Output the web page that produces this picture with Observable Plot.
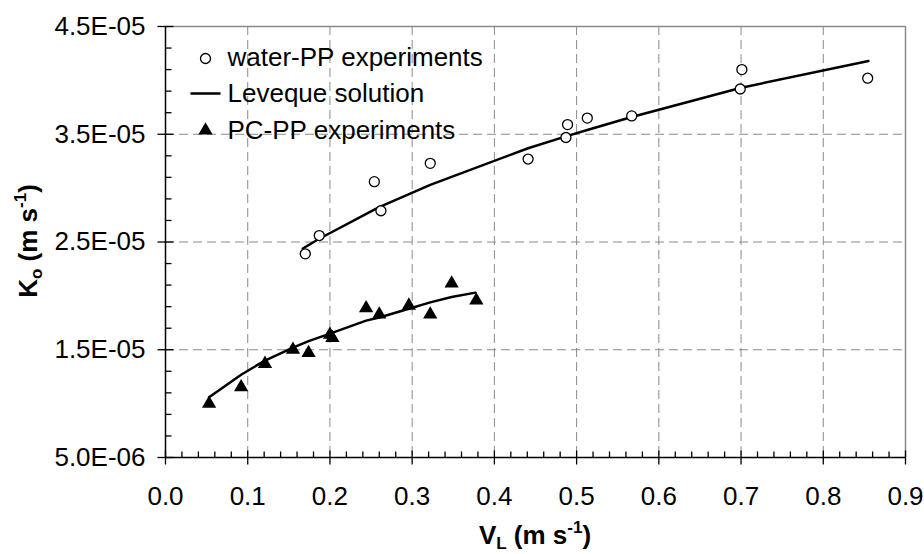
<!DOCTYPE html>
<html><head><meta charset="utf-8">
<script src="https://cdn.jsdelivr.net/npm/d3@7"></script>
<script src="https://cdn.jsdelivr.net/npm/@observablehq/plot@0.6"></script>
<style>body{margin:0;background:#fff}</style>
</head><body><div id="chart"></div>
<script>
// water-PP experiments
const waterV = [0.170, 0.187, 0.254, 0.262, 0.322, 0.441, 0.487, 0.489, 0.513, 0.567, 0.699, 0.701, 0.854];
const waterK = [2.39e-5, 2.56e-5, 3.06e-5, 2.79e-5, 3.23e-5, 3.27e-5, 3.47e-5, 3.59e-5, 3.65e-5, 3.67e-5, 3.92e-5, 4.10e-5, 4.02e-5];
// Leveque solution (water)
const levWaterV = [0.167, 0.187, 0.254, 0.262, 0.322, 0.441, 0.487, 0.513, 0.567, 0.699, 0.855];
const levWaterK = [2.44e-5, 2.53e-5, 2.80e-5, 2.83e-5, 3.03e-5, 3.37e-5, 3.48e-5, 3.54e-5, 3.66e-5, 3.93e-5, 4.18e-5];
// PC-PP experiments
const pcV = [0.053, 0.092, 0.121, 0.155, 0.174, 0.200, 0.203, 0.244, 0.260, 0.296, 0.322, 0.348, 0.378];
const pcK = [0.999e-5, 1.153e-5, 1.37e-5, 1.50e-5, 1.47e-5, 1.64e-5, 1.61e-5, 1.886e-5, 1.828e-5, 1.91e-5, 1.828e-5, 2.116e-5, 1.958e-5];
// Leveque solution (PC)
const levPcV = [0.053, 0.092, 0.121, 0.155, 0.174, 0.200, 0.244, 0.260, 0.296, 0.322, 0.348, 0.377];
const levPcK = [1.06e-5, 1.268e-5, 1.40e-5, 1.52e-5, 1.58e-5, 1.65e-5, 1.77e-5, 1.80e-5, 1.88e-5, 1.94e-5, 1.99e-5, 2.03e-5];

// ticks
const xMajor = [0, 0.1, 0.2, 0.3, 0.4, 0.5, 0.6, 0.7, 0.8, 0.9];
const xTickLabels = ["0.0", "0.1", "0.2", "0.3", "0.4", "0.5", "0.6", "0.7", "0.8", "0.9"];
const yMajor = [5e-6, 1.5e-5, 2.5e-5, 3.5e-5, 4.5e-5];
const yTickLabels = ["5.0E-06", "1.5E-05", "2.5E-05", "3.5E-05", "4.5E-05"];
const legendLabels = ["water-PP experiments", "Leveque solution", "PC-PP experiments"];

const xMinor = d3.range(1, 45).map(i => i * 0.02).filter(v => Math.abs(v * 10 - Math.round(v * 10)) > 1e-6);
const yMinor = d3.range(0, 21).map(i => 5e-6 + i * 2e-6).filter((v, i) => i % 5 !== 0);

const water = waterV.map((v, i) => ({v, k: waterK[i]}));
const levWater = levWaterV.map((v, i) => ({v, k: levWaterK[i]}));
const pc = pcV.map((v, i) => ({v, k: pcK[i]}));
const levPc = levPcV.map((v, i) => ({v, k: levPcK[i]}));

const symVCross = {draw(c) { c.moveTo(0, -7); c.lineTo(0, 7); }};
const symVIn = {draw(c) { c.moveTo(0, -6); c.lineTo(0, 0); }};
const symHCross = {draw(c) { c.moveTo(-8, 0); c.lineTo(8, 0); }};
const symHIn = {draw(c) { c.moveTo(0, 0); c.lineTo(6, 0); }};
const symLegLine = {draw(c) { c.moveTo(-15, 0); c.lineTo(15, 0); }};

const gridStyle = {stroke: "#8a8a8a", strokeWidth: 1, strokeDasharray: "9,5", strokeOpacity: 1};

const chart = Plot.plot({
  width: 924, height: 554,
  marginLeft: 165, marginRight: 19, marginTop: 26, marginBottom: 97,
  style: {background: "white", color: "black", fontFamily: "'Liberation Sans', Arial, sans-serif", fontSize: "26px"},
  x: {domain: [0, 0.9]},
  y: {domain: [5e-6, 4.5e-5]},
  marks: [
    Plot.ruleX(xMajor.slice(1, -1), gridStyle),
    Plot.ruleY(yMajor.slice(1, -1), gridStyle),
    Plot.ruleY([yMajor[yMajor.length - 1]], {stroke: "#8a8a8a", strokeWidth: 1.5}),
    Plot.ruleX([xMajor[xMajor.length - 1]], {stroke: "#8a8a8a", strokeWidth: 1.5}),
    Plot.ruleX([xMajor[0]], {stroke: "black", strokeWidth: 1.5}),
    Plot.ruleY([yMajor[0]], {stroke: "black", strokeWidth: 1.5}),
    // ticks
    Plot.dot(xMajor, {x: d => d, frameAnchor: "bottom", symbol: symVCross, stroke: "black", fill: "none", strokeWidth: 1.3}),
    Plot.dot(xMinor, {x: d => d, frameAnchor: "bottom", symbol: symVIn, stroke: "black", fill: "none", strokeWidth: 1.3}),
    Plot.dot(yMajor, {y: d => d, frameAnchor: "left", symbol: symHCross, stroke: "black", fill: "none", strokeWidth: 1.3}),
    Plot.dot(yMinor, {y: d => d, frameAnchor: "left", symbol: symHIn, stroke: "black", fill: "none", strokeWidth: 1.3}),
    // data
    Plot.line(levWater, {x: "v", y: "k", stroke: "black", strokeWidth: 2.5}),
    Plot.line(levPc, {x: "v", y: "k", stroke: "black", strokeWidth: 2.5}),
    Plot.dot(water, {x: "v", y: "k", r: 5, stroke: "black", fill: "white", strokeWidth: 1.3}),
    Plot.dot(pc, {x: "v", y: "k", symbol: "triangle", r: 5.3, fill: "black", stroke: "none"}),
    // axes labels
    Plot.axisX({ticks: xMajor, tickFormat: d => xTickLabels[xMajor.indexOf(d)], tickSize: 0, tickPadding: 29, fontSize: 26, label: null}),
    Plot.axisY({ticks: yMajor, tickFormat: d => yTickLabels[yMajor.indexOf(d)], tickSize: 0, tickPadding: 20, fontSize: 26, label: null}),
    // legend
    Plot.dot([legendLabels[0]], {frameAnchor: "top-left", dx: 40, dy: 32, r: 5, stroke: "black", fill: "white", strokeWidth: 1.3}),
    Plot.dot([legendLabels[1]], {frameAnchor: "top-left", dx: 40, dy: 67, symbol: symLegLine, stroke: "black", fill: "none", strokeWidth: 2.5}),
    Plot.dot([legendLabels[2]], {frameAnchor: "top-left", dx: 40, dy: 104, symbol: "triangle", r: 5.3, fill: "black", stroke: "none"}),
    Plot.text([legendLabels[0]], {frameAnchor: "top-left", dx: 62, dy: 31, textAnchor: "start", lineAnchor: "middle", fontSize: 26, fill: "black"}),
    Plot.text([legendLabels[1]], {frameAnchor: "top-left", dx: 62, dy: 67, textAnchor: "start", lineAnchor: "middle", fontSize: 26, fill: "black"}),
    Plot.text([legendLabels[2]], {frameAnchor: "top-left", dx: 62, dy: 104, textAnchor: "start", lineAnchor: "middle", fontSize: 26, fill: "black"})
  ]
});

const svg = d3.select(chart);
function addTitle(sel, main, sub, rest, sup, end) {
  sel.append("tspan").text(main);
  sel.append("tspan").attr("font-size", 17).attr("dy", 5).text(sub);
  sel.append("tspan").attr("font-size", 26).attr("dy", -5).text(rest);
  sel.append("tspan").attr("font-size", 17).attr("dy", -11).text(sup);
  sel.append("tspan").attr("font-size", 26).attr("dy", 11).text(end);
}
const xt = svg.append("text").attr("x", 535).attr("y", 544).attr("text-anchor", "middle")
  .attr("font-weight", "bold").attr("font-size", 26).attr("fill", "black");
addTitle(xt, "V", "L", " (m s", "-1", ")");
const yt = svg.append("text").attr("transform", "translate(37,241) rotate(-90)").attr("text-anchor", "middle")
  .attr("font-weight", "bold").attr("font-size", 26).attr("fill", "black");
addTitle(yt, "K", "o", " (m s", "-1", ")");

document.getElementById("chart").appendChild(chart);
</script>
</body></html>
